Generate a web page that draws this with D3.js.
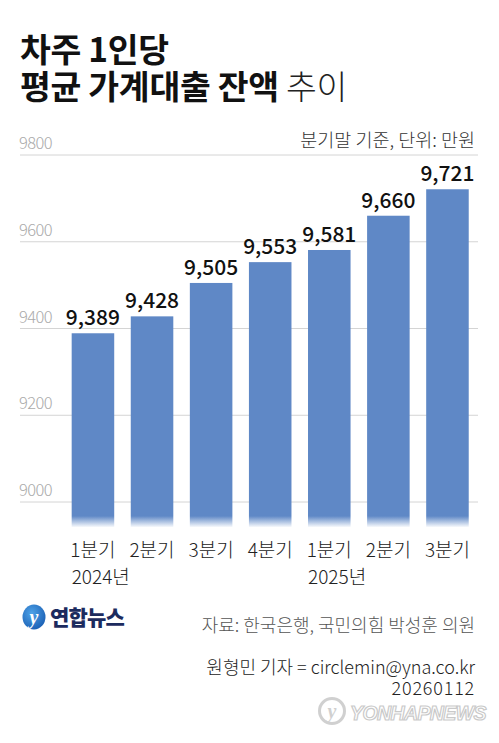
<!DOCTYPE html>
<html><head><meta charset="utf-8">
<script src="https://cdn.jsdelivr.net/npm/d3@7"></script>
<style>
html,body{margin:0;padding:0;background:#fff;}
svg{display:block;font-family:"Noto Sans CJK KR","Noto Sans",sans-serif;}
</style></head>
<body>
<script>
const quarters = ["1분기","2분기","3분기","4분기","1분기","2분기","3분기"];
const years = ["2024년","","","","2025년","",""];
const values = [9389, 9428, 9505, 9553, 9581, 9660, 9721];
const valueLabels = ["9,389","9,428","9,505","9,553","9,581","9,660","9,721"];
const yTicks = [9000, 9200, 9400, 9600, 9800];

const W = 499, H = 743;
const svg = d3.select("body").append("svg").attr("width", W).attr("height", H);

const defs = svg.append("defs");
const grad = defs.append("linearGradient").attr("id","fade").attr("x1",0).attr("y1",0).attr("x2",0).attr("y2",1);
grad.append("stop").attr("offset","0%").attr("stop-color","#5f88c6").attr("stop-opacity",1);
grad.append("stop").attr("offset","100%").attr("stop-color","#5f88c6").attr("stop-opacity",0.05);

// Title
svg.append("text").attr("x",20).attr("y",62).attr("fill","#111")
  .attr("font-weight",700).style("font-size","33.5px").style("letter-spacing","-0.3px").text("차주 1인당");
const l2 = svg.append("text").attr("x",20).attr("y",99).attr("fill","#111")
  .style("font-size","33.5px").style("letter-spacing","-0.3px");
l2.append("tspan").attr("font-weight",700).text("평균 가계대출 잔액 ");
l2.append("tspan").attr("font-weight",300).attr("fill","#222").text("추이");

svg.append("text").attr("x",475).attr("y",147).attr("text-anchor","end")
  .attr("fill","#333").attr("font-weight",300).style("font-size","18.5px").text("분기말 기준, 단위: 만원");

// scales
const x = d3.scaleBand().domain(d3.range(values.length)).range([63.4, 477]).paddingInner(0.28).paddingOuter(0.14);
const y = d3.scaleLinear().domain([9000, 9800]).range([502, 155]);
const plotBottom = 527;

// grid
const grid = svg.append("g");
grid.selectAll("line").data(yTicks).join("line")
  .attr("x1",20).attr("x2",478)
  .attr("y1",d=>y(d)).attr("y2",d=>y(d))
  .attr("stroke","#d4d4d4").attr("stroke-width",1);
grid.selectAll("text").data(yTicks).join("text")
  .attr("x",19).attr("y",d=>y(d)-6)
  .attr("fill","#aaa").attr("font-weight",300).style("font-size","16.5px").style("letter-spacing","-0.6px")
  .text(d=>d);

// bars
const bars = svg.append("g");
const fadeStart = 516;
bars.selectAll("rect.main").data(values).join("rect").attr("class","main")
  .attr("x",(d,i)=>x(i)).attr("width",x.bandwidth())
  .attr("y",d=>y(d)).attr("height",d=>fadeStart - y(d))
  .attr("fill","#5f88c6");
bars.selectAll("rect.fade").data(values).join("rect").attr("class","fade")
  .attr("x",(d,i)=>x(i)).attr("width",x.bandwidth())
  .attr("y",fadeStart).attr("height",plotBottom-fadeStart)
  .attr("fill","url(#fade)");

// value labels
svg.append("g").selectAll("text").data(values).join("text")
  .attr("x",(d,i)=>x(i)+x.bandwidth()/2).attr("y",d=>y(d)-8)
  .attr("text-anchor","middle").attr("fill","#111").attr("font-weight",500)
  .style("font-size","21px")
  .text((d,i)=>valueLabels[i]);

// x labels
svg.append("g").selectAll("text").data(quarters).join("text")
  .attr("x",(d,i)=>x(i)+x.bandwidth()/2).attr("y",557)
  .attr("text-anchor","middle").attr("fill","#222").attr("font-weight",300)
  .style("font-size","19px").text(d=>d);
svg.append("g").selectAll("text").data(years).join("text")
  .attr("x",(d,i)=>x(i)).attr("y",584)
  .attr("fill","#222").attr("font-weight",300)
  .style("font-size","19px").text(d=>d);

// logo
const logo = svg.append("g");
const lg = defs.append("radialGradient").attr("id","logoG").attr("cx","40%").attr("cy","35%").attr("r","70%");
lg.append("stop").attr("offset","0%").attr("stop-color","#4fa3e8");
lg.append("stop").attr("offset","100%").attr("stop-color","#1a5fb4");
logo.append("ellipse").attr("cx",34).attr("cy",617).attr("rx",11.5).attr("ry",12.5).attr("fill","url(#logoG)");
logo.append("text").attr("x",34).attr("y",624).attr("text-anchor","middle")
  .attr("fill","#fff").attr("font-weight",700).attr("font-style","italic")
  .style("font-size","20px").style("font-family","Liberation Serif, serif").text("y");
logo.append("text").attr("x",50).attr("y",625).attr("fill","#1c2b5e").attr("font-weight",900)
  .style("font-size","21px").style("letter-spacing","-0.8px").text("연합뉴스");

// footer
svg.append("text").attr("x",475).attr("y",632).attr("text-anchor","end")
  .attr("fill","#555").attr("font-weight",300).style("font-size","18px")
  .text("자료: 한국은행, 국민의힘 박성훈 의원");
svg.append("text").attr("x",475).attr("y",674).attr("text-anchor","end")
  .attr("fill","#222").attr("font-weight",300).style("font-size","18px")
  .text("원형민 기자 = circlemin@yna.co.kr");
svg.append("text").attr("x",475).attr("y",695).attr("text-anchor","end")
  .attr("fill","#222").attr("font-weight",300).style("font-size","18px").style("letter-spacing","0.8px")
  .text("20260112");

// watermark
const wm = svg.append("g").attr("opacity",0.45);
wm.append("circle").attr("cx",332).attr("cy",711).attr("r",12.5).attr("fill","none").attr("stroke","#999").attr("stroke-width",3);
wm.append("text").attr("x",332).attr("y",718).attr("text-anchor","middle").attr("fill","#999")
  .attr("font-weight",700).attr("font-style","italic").style("font-size","20px").style("font-family","Liberation Serif, serif").text("y");
wm.append("text").attr("x",350).attr("y",720).attr("fill","#fff").attr("stroke","#888").attr("stroke-width",1.2)
  .attr("font-weight",900).attr("font-style","italic").style("font-size","19.5px")
  .style("font-family","Liberation Sans, Arial, sans-serif").style("letter-spacing","-0.6px").text("YONHAPNEWS");
</script>
</body></html>
